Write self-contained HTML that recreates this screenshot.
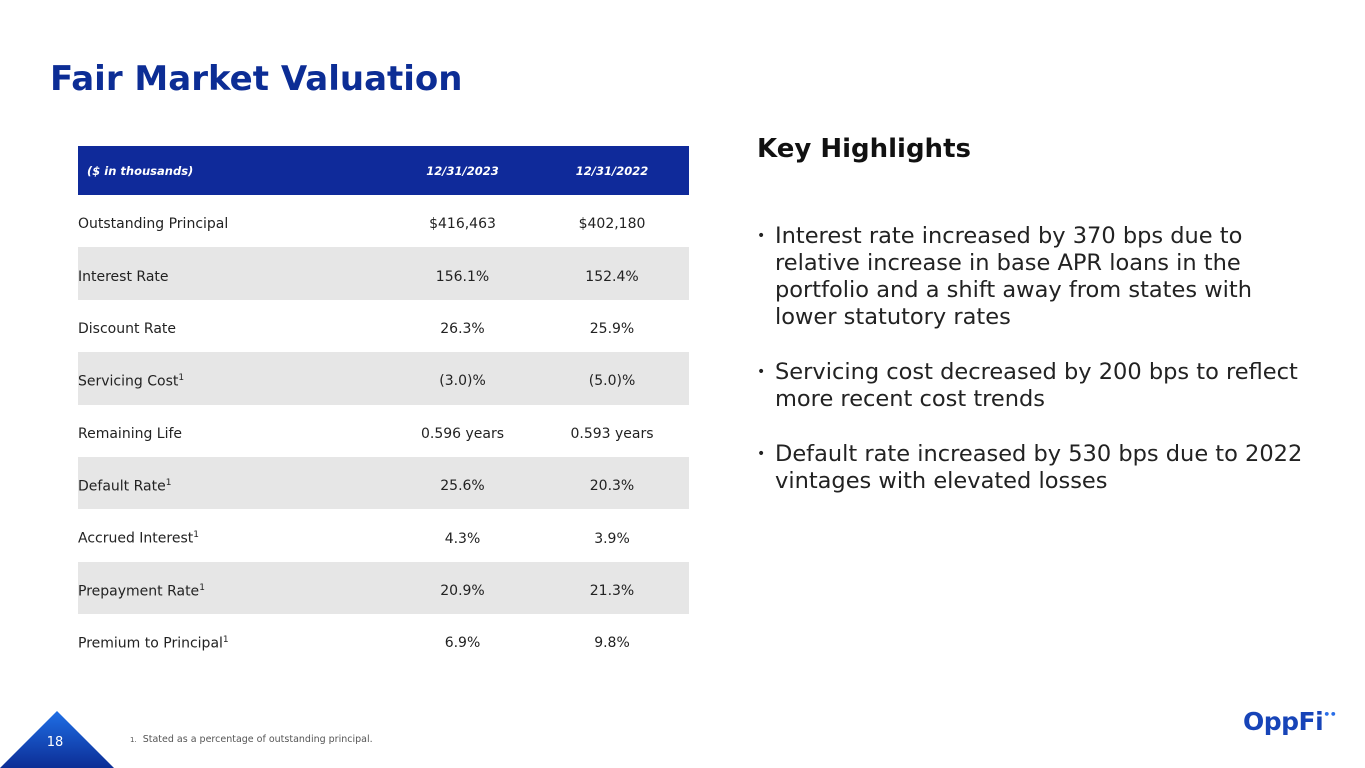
<!DOCTYPE html>
<html><head><meta charset="utf-8"><style>
body{margin:0;width:1365px;height:768px;position:relative;background:#fff;font-family:"DejaVu Sans","Liberation Sans",sans-serif;overflow:hidden}
.t{position:absolute;white-space:nowrap}
#title{left:50px;top:59px;font-size:34px;font-weight:bold;color:#0c2d95}
table{position:absolute;left:78px;top:146px;width:611px;border-collapse:collapse;font-size:14px;color:#222}
th{background:#0f2a9a;color:#fff;font-size:11.5px;font-style:italic;font-weight:bold;height:49px;padding:0}
td{height:46.4px;padding:6px 0 0 0}
tr.g td{background:#e6e6e6}
td.c,th.c{text-align:center}
sup{font-size:9px}
#kh{left:757px;top:134px;font-size:26px;font-weight:bold;color:#111}
ul{position:absolute;left:757px;top:223px;margin:0;padding:0;list-style:none;width:560px;font-size:22.5px;line-height:27px;color:#222}
li{position:relative;padding-left:18px;margin-bottom:28px}
li:before{content:"•";position:absolute;left:0;font-size:14px}
</style></head><body>
<div class="t" id="title">Fair Market Valuation</div>
<table>
<colgroup><col style="width:312px"><col style="width:145px"><col style="width:154px"></colgroup>
<tr><th style="text-align:left;padding-left:9px">($ in thousands)</th><th class="c">12/31/2023</th><th class="c">12/31/2022</th></tr>
<tr><td>Outstanding Principal</td><td class="c">$416,463</td><td class="c">$402,180</td></tr>
<tr class="g"><td>Interest Rate</td><td class="c">156.1%</td><td class="c">152.4%</td></tr>
<tr><td>Discount Rate</td><td class="c">26.3%</td><td class="c">25.9%</td></tr>
<tr class="g"><td>Servicing Cost<sup>1</sup></td><td class="c">(3.0)%</td><td class="c">(5.0)%</td></tr>
<tr><td>Remaining Life</td><td class="c">0.596 years</td><td class="c">0.593 years</td></tr>
<tr class="g"><td>Default Rate<sup>1</sup></td><td class="c">25.6%</td><td class="c">20.3%</td></tr>
<tr><td>Accrued Interest<sup>1</sup></td><td class="c">4.3%</td><td class="c">3.9%</td></tr>
<tr class="g"><td>Prepayment Rate<sup>1</sup></td><td class="c">20.9%</td><td class="c">21.3%</td></tr>
<tr><td>Premium to Principal<sup>1</sup></td><td class="c">6.9%</td><td class="c">9.8%</td></tr>
</table>
<div class="t" id="kh">Key Highlights</div>
<ul>
<li>Interest rate increased by 370 bps due to relative increase in base APR loans in the portfolio and a shift away from states with lower statutory rates</li>
<li>Servicing cost decreased by 200 bps to reflect more recent cost trends</li>
<li>Default rate increased by 530 bps due to 2022 vintages with elevated losses</li>
</ul>
<svg style="position:absolute;left:0;top:711px" width="114" height="57">
<defs><linearGradient id="gr" x1="0" y1="0" x2="0" y2="1"><stop offset="0" stop-color="#1f6fe6"/><stop offset="1" stop-color="#0c2d95"/></linearGradient></defs>
<polygon points="0,57 57,0 114,57" fill="url(#gr)"/>
<text x="55" y="35" fill="#fff" font-size="13" text-anchor="middle" font-family="DejaVu Sans,sans-serif">18</text>
</svg>
<div class="t" style="left:130px;top:734px;font-size:9.5px;color:#555"><span style="font-size:7px">1.</span>&nbsp; Stated as a percentage of outstanding principal.</div>
<div class="t" style="left:1243px;top:707px;font-size:25px;font-weight:bold;color:#1744b8;letter-spacing:-0.5px">OppFi<span style="font-size:11px;vertical-align:12px;color:#2a6ee8">••</span></div>
</body></html>
